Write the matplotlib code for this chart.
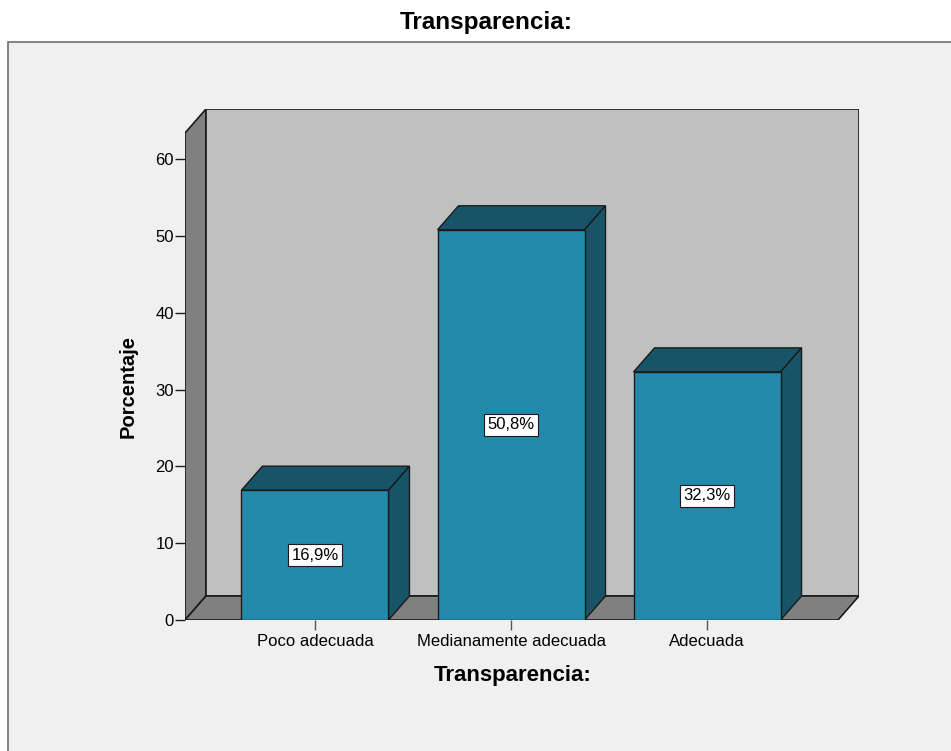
import matplotlib
matplotlib.use("Agg")
import matplotlib.pyplot as plt
from matplotlib.patches import Polygon, Rectangle

categorias = ['Poco adecuada', 'Medianamente adecuada', 'Adecuada']
porcentajes = [16.9, 50.8, 32.3]
yticks = [0, 10, 20, 30, 40, 50, 60]

plt.rcParams['font.family'] = ['Liberation Sans', 'DejaVu Sans']

frente = '#2389ab'
oscuro = '#175468'
borde = '#1a1a1a'

fig = plt.figure(figsize=(9.51, 7.51), dpi=100)
fig.patch.set_facecolor('white')

# marco gris del fondo
fig.patches.append(Rectangle((8 / 951, -0.01), 1.0, 1 - 42 / 751 + 0.01,
                             transform=fig.transFigure, facecolor='#f0f0f0',
                             edgecolor='#707070', lw=1.2, zorder=-5))

fig.text(486 / 951, 1 - 23 / 751, 'Transparencia:', ha='center', va='center',
         fontsize=17.5, fontweight='bold')

# limites del "cubo"
x0, x1 = -0.663, 2.668
ytop = 63.4
dx, dy = 0.107, 3.125
ancho = 0.75

ax = fig.add_axes([185 / 951, 131 / 751, 674 / 951, 511 / 751])
ax.set_xlim(x0, x1 + dx)
ax.set_ylim(0, ytop + dy)
ax.patch.set_visible(False)
for s in ax.spines.values():
    s.set_visible(False)

# pared lateral, fondo y piso
ax.add_patch(Polygon([(x0, 0), (x0 + dx, dy), (x0 + dx, ytop + dy), (x0, ytop)],
                     closed=True, facecolor='#808080', edgecolor=borde, lw=1.2, zorder=1))
ax.add_patch(Rectangle((x0 + dx, dy), x1 - x0, ytop, facecolor='#c0c0c0',
                       edgecolor=borde, lw=1.2, zorder=1))
ax.add_patch(Polygon([(x0, 0), (x1, 0), (x1 + dx, dy), (x0 + dx, dy)],
                     closed=True, facecolor='#808080', edgecolor=borde, lw=1.2, zorder=2))

for i, v in enumerate(porcentajes):
    xl = i - ancho / 2
    xr = i + ancho / 2
    ax.add_patch(Polygon([(xl, v), (xr, v), (xr + dx, v + dy), (xl + dx, v + dy)],
                         closed=True, facecolor=oscuro, edgecolor=borde, lw=1, zorder=3))
    ax.add_patch(Polygon([(xr, 0), (xr + dx, dy), (xr + dx, v + dy), (xr, v)],
                         closed=True, facecolor=oscuro, edgecolor=borde, lw=1, zorder=3))
    ax.add_patch(Rectangle((xl, 0), ancho, v, facecolor=frente, edgecolor=borde,
                           lw=1, zorder=4))
    ax.text(i, v / 2, f'{v:.1f}%'.replace('.', ','), ha='center', va='center',
            fontsize=12, zorder=5,
            bbox=dict(boxstyle='square,pad=0.2', facecolor='white', edgecolor=borde, lw=0.8))

ax.set_yticks(yticks)
ax.set_xticks(range(len(categorias)))
ax.set_xticklabels(categorias)
ax.tick_params(axis='y', length=7.5, width=1, color=borde, labelsize=12, pad=0.5)
ax.tick_params(axis='x', length=7, width=1, color='#555555', labelsize=12, pad=3)

ax.set_ylabel('Porcentaje', fontsize=14.5, fontweight='bold')
ax.yaxis.set_label_coords(-0.071, 0.456)
ax.set_xlabel('Transparencia:', fontsize=16, fontweight='bold')
ax.xaxis.set_label_coords(0.486, -0.088)

fig.savefig('out.png', dpi=100)
